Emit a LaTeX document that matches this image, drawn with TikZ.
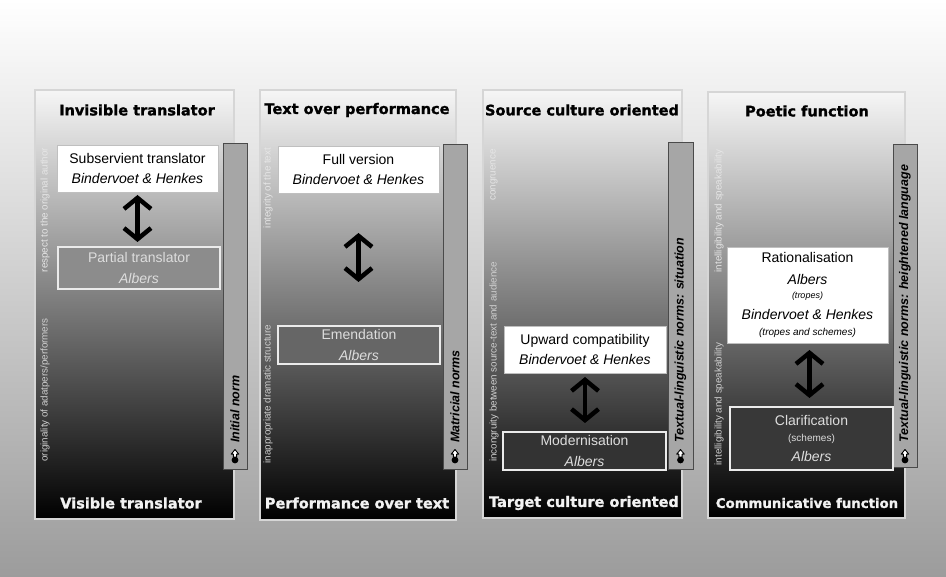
\documentclass[tikz,border=0pt]{standalone}
\usepackage{fontspec}
\setmainfont{Liberation Sans}
\newfontfamily\titlefont{DejaVu Sans}[BoldFeatures={FakeBold=1.3}]
\usetikzlibrary{arrows.meta}
\definecolor{bgbottom}{HTML}{9C9C9C}
\definecolor{paneltop}{HTML}{F6F6F6}
\definecolor{panelborder}{HTML}{D6D6D6}
\definecolor{barfill}{HTML}{A6A6A6}
\definecolor{barborder}{HTML}{4A4A4A}
\definecolor{toplabel}{HTML}{E6E6E6}
\definecolor{botlabel}{HTML}{D0D0D0}
\definecolor{darktext}{HTML}{DDDDDD}
\newcommand\normicon[2]{%
  \fill[black] (#1,#2+5) circle (3.4pt);
  \draw[fill=white, line width=0.9pt, line join=round] (#1,#2-5.5) -- (#1+3.8,#2-0.8) -- (#1+1.6,#2-0.8) -- (#1+1.6,#2+2) -- (#1-1.6,#2+2) -- (#1-1.6,#2-0.8) -- (#1-3.8,#2-0.8) -- cycle;}
\begin{document}
\begin{tikzpicture}[x=1pt,y=-1pt,
  panel/.style={draw=panelborder, line width=1.2pt, top color=paneltop, bottom color=black, inner sep=0pt, outer sep=0pt},
  title/.style={font=\titlefont\bfseries\fontsize{14.5}{16}\selectfont, text=black},
  btitle/.style={title, text=white!95!black},
  wbox/.style={draw=white!75!black, line width=0.6pt, fill=white, align=center, inner sep=0pt, outer sep=0pt, font=\fontsize{14}{20.5}\selectfont, text=black},
  dbox/.style={draw=white!92!black, line width=1.5pt, align=center, inner sep=0pt, outer sep=0pt, font=\fontsize{14}{20.5}\selectfont, text=darktext},
  normbar/.style={draw=barborder, line width=1pt, fill=barfill, inner sep=0pt, outer sep=0pt},
  normtext/.style={rotate=90, anchor=west, inner sep=0pt, font=\bfseries\itshape\fontsize{12.5}{14}\selectfont, text=black},
  vlabel/.style={rotate=90, inner sep=0pt, font=\fontsize{9.8}{11}\selectfont},
  dblarrow/.style={line width=4.5pt, {Straight Barb[length=11pt,width=27pt]}-{Straight Barb[length=11pt,width=27pt]}}
]
\useasboundingbox (0,0) rectangle (946,577);
\fill[top color=white, bottom color=bgbottom] (0,0) rectangle (946,577);

% ---------- Panel 1 ----------
\node[panel, minimum width=199pt, minimum height=429pt] (p1) at (134.5,304.5) {};
\node[normbar, minimum width=24pt, minimum height=326pt] (n1) at (235,307) {};
\node[normtext] (n1t) at (235,443) {Initial norm};
\normicon{235}{455}
\node[title] (t1) at (137,110) {Invisible translator};
\node[btitle] (bt1) at (131,503) {Visible translator};
\node[wbox, minimum width=161pt, minimum height=47pt] (a1) at (137.5,168.5) {Subservient translator\\\textit{Bindervoet \& Henkes}};
\node[dbox, fill=black!45, minimum width=162pt, minimum height=42pt] (b1) at (139,268) {Partial translator\\\textit{Albers}};
\draw[dblarrow, shorten <=3pt, shorten >=5pt] (a1.south) -- (a1.south |- b1.north);
\node[vlabel, text=toplabel] (l1a) at (45,210) {respect to the original author};
\node[vlabel, text=botlabel] (l1b) at (45,390) {originality of adatpers/performers};

% ---------- Panel 2 ----------
\node[panel, minimum width=196pt, minimum height=430pt] (p2) at (358,305) {};
\node[normbar, minimum width=24pt, minimum height=325pt] (n2) at (455,307.5) {};
\node[normtext] (n2t) at (455,443) {Matricial norms};
\normicon{455}{455}
\node[title] (t2) at (357,110) {Text over performance};
\node[btitle] (bt2) at (357,503) {Performance over text};
\node[wbox, minimum width=161pt, minimum height=47pt] (a2) at (358.5,169.5) {Full version\\\textit{Bindervoet \& Henkes}};
\node[dbox, fill=black!60, minimum width=162pt, minimum height=38pt] (b2) at (359,345) {Emendation\\\textit{Albers}};
\draw[dblarrow, shorten <=40pt, shorten >=44pt] (a2.south) -- (a2.south |- b2.north);
\node[vlabel, text=toplabel] (l2a) at (268,188) {integrity of the text};
\node[vlabel, text=botlabel] (l2b) at (268,394) {inappropriate dramatic structure};

% ---------- Panel 3 ----------
\node[panel, minimum width=199pt, minimum height=428pt] (p3) at (582.5,304) {};
\node[normbar, minimum width=25pt, minimum height=327pt] (n3) at (680.5,306.5) {};
\node[normtext] (n3t) at (680.5,443) {Textual-linguistic norms: situation};
\normicon{680.5}{455}
\node[title] (t3) at (582,110) {Source culture oriented};
\node[btitle] (bt3) at (584,503) {Target culture oriented};
\node[wbox, minimum width=162pt, minimum height=47pt] (a3) at (585,349.5) {Upward compatibility\\\textit{Bindervoet \& Henkes}};
\node[dbox, fill=black!80, minimum width=163pt, minimum height=38pt] (b3) at (584.5,451) {Modernisation\\\textit{Albers}};
\draw[dblarrow, shorten <=4pt, shorten >=9pt] (a3.south) -- (a3.south |- b3.north);
\node[vlabel, text=toplabel] (l3a) at (494,175) {congruence};
\node[vlabel, text=botlabel] (l3b) at (494,362) {incongruity between source-text and audience};

% ---------- Panel 4 ----------
\node[panel, minimum width=197pt, minimum height=426pt] (p4) at (806.5,305) {};
\node[normbar, minimum width=24pt, minimum height=323pt] (n4) at (905,306.5) {};
\node[normtext] (n4t) at (905,443) {Textual-linguistic norms: heightened language};
\normicon{905}{455}
\node[title] (t4) at (807,111) {Poetic function};
\node[btitle, font=\titlefont\bfseries\fontsize{13.3}{15}\selectfont] (bt4) at (807,503) {Communicative function};
\node[wbox, minimum width=161pt, minimum height=96pt] (a4) at (807.5,295) {Rationalisation\\[1.5pt]\textit{Albers}\\[-6pt]{\fontsize{9}{10}\selectfont\textit{(tropes)}}\\[0.5pt]\textit{Bindervoet \& Henkes}\\[-4.5pt]{\fontsize{10}{11}\selectfont\textit{(tropes and schemes)}}};
\node[dbox, fill=black!78, minimum width=163pt, minimum height=63pt] (b4) at (811.5,438.5) {Clarification\\[-4.5pt]{\fontsize{10}{11}\selectfont(schemes)}\\[-0.5pt]\textit{Albers}};
\draw[dblarrow, shorten <=7pt, shorten >=9pt] ([xshift=2pt]a4.south) -- ([xshift=2pt]a4.south |- b4.north);
\node[vlabel, text=toplabel] (l4a) at (719,211) {intelligibility and speakability};
\node[vlabel, text=botlabel] (l4b) at (719,404) {intelligibility and speakability};
\end{tikzpicture}
\end{document}
